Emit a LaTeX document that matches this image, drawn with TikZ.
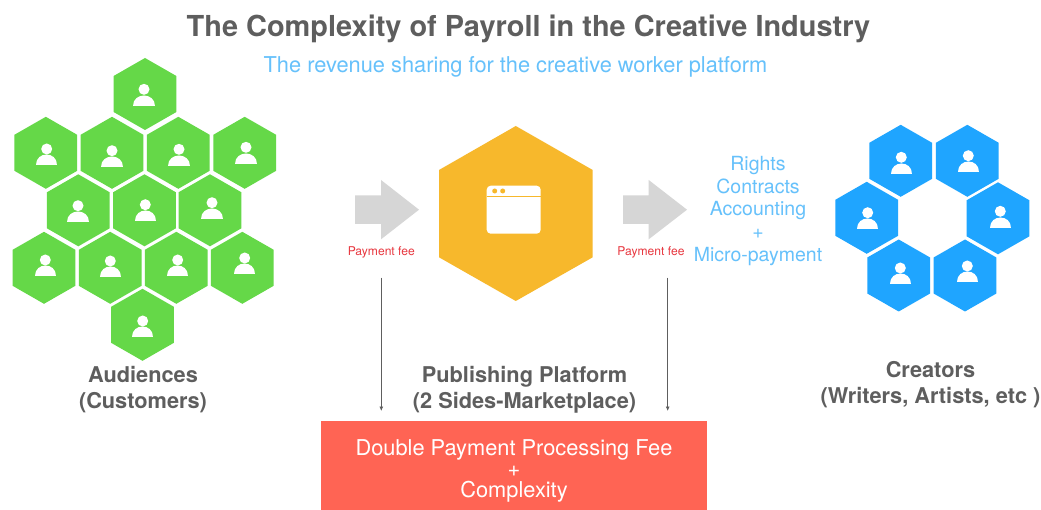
\documentclass[tikz,border=0pt]{standalone}
\usepackage{fontspec}
\setmainfont{TeX Gyre Heros}
\definecolor{ink}{HTML}{5E5E5E}
\definecolor{sky}{HTML}{66C1FB}
\definecolor{grn}{HTML}{65D848}
\definecolor{blu}{HTML}{1FA5FF}
\definecolor{org}{HTML}{F7B82C}
\definecolor{gry}{HTML}{D6D6D6}
\definecolor{redt}{HTML}{E8373F}
\definecolor{boxr}{HTML}{FF6454}
\newcommand{\hexa}[3]{\fill[#3] (#1,#2) ++(0,-36) -- ++(31.4,18) -- ++(0,36) -- ++(-31.4,18) -- ++(-31.4,-18) -- ++(0,-36) -- cycle;}
\newcommand{\pers}[2]{\fill[white] (#1,#2) circle (5.5);
 \fill[white] (#1,#2) ++(-10.7,16.5) .. controls ++(0,-14) and ++(0,-14) .. ++(21.4,0) -- cycle;}
\tikzset{
 ttl/.style={font=\fontsize{28.9}{32}\selectfont\bfseries,text=ink,inner sep=0},
 sub/.style={font=\fontsize{21.8}{25}\selectfont,text=sky,inner sep=0},
 lbl/.style={font=\fontsize{21.75}{25.6}\selectfont\bfseries,text=ink,align=center,inner sep=0},
 fee/.style={font=\fontsize{12.1}{14}\selectfont,text=redt,inner sep=0},
 duty/.style={font=\fontsize{19.5}{22.75}\selectfont,text=sky,align=center,inner sep=0},
 boxt/.style={font=\fontsize{21.8}{20.5}\selectfont,text=white,align=center,inner sep=0},
 boxf/.style={fill=boxr,inner sep=0,minimum width=386,minimum height=89},
 flow/.style={fill=gry},
 feeline/.style={draw=ink,line width=0.8pt,-{Latex[length=4.5pt,width=4pt]}}
}
\usetikzlibrary{arrows.meta}
\begin{document}
\begin{tikzpicture}[x=1pt,y=-1pt]
\useasboundingbox (0,0) rectangle (1041,510);
\fill[white] (0,0) rectangle (1041,510);
% Green hexagons
\hexa{145}{94}{grn}\hexa{45.8}{152.8}{grn}\hexa{112}{152.8}{grn}\hexa{178.3}{152.8}{grn}\hexa{244.7}{152.8}{grn}
\hexa{78.3}{210.3}{grn}\hexa{144.5}{210.3}{grn}\hexa{210}{210.3}{grn}
\hexa{44}{267.8}{grn}\hexa{110.2}{267.8}{grn}\hexa{176.3}{267.8}{grn}\hexa{242.3}{267.8}{grn}
\hexa{142.5}{324.8}{grn}
\pers{144}{89.3}
\pers{46.7}{149}\pers{112}{150.7}\pers{179}{149.3}\pers{246}{147.3}
\pers{78}{205.7}\pers{145.3}{204.7}\pers{212}{202.7}
\pers{45.3}{260}\pers{110.3}{261}\pers{177.7}{260}\pers{244.7}{258}
\pers{142.7}{321}
% Blue hexagons
\hexa{900.7}{160.8}{blu}\hexa{967.3}{160.8}{blu}\hexa{866.7}{217.8}{blu}\hexa{998}{218.3}{blu}\hexa{898.7}{275.5}{blu}\hexa{965}{275.5}{blu}
\pers{901.3}{157.3}\pers{968.3}{155.7}\pers{867.7}{212.7}\pers{1000.3}{211.3}\pers{900.3}{268}\pers{967.3}{266}
% Platform hexagon and window
\fill[org] (515.8,126) -- (592.7,170) -- (592.7,257.3) -- (515.8,301) -- (439,257.3) -- (439,170) -- cycle;
\fill[white,rounded corners=4pt] (486.7,185.7) rectangle (540.7,233.7);
\draw[org,line width=1pt] (486.7,196.7) -- (540.7,196.7);
\fill[org] (494.7,191) circle (2.5) (502.7,191) circle (2.5);
% Flow arrows
\fill[flow] (355,195.3) -- (381,195.3) -- (381,180) -- (419,209.7) -- (381,239.3) -- (381,224) -- (355,224) -- cycle;
\fill[flow] (623,195.3) -- (648.7,195.3) -- (648.7,180) -- (687,209.7) -- (648.7,239.3) -- (648.7,224) -- (623,224) -- cycle;
% Texts
\node[ttl] (title) at (528.5,29) {The Complexity of Payroll in the Creative Industry};
\node[sub] (subtitle) at (515.5,67) {The revenue sharing for the creative worker platform};
\node[fee] (feeL) at (381.3,252) {Payment fee};
\node[fee] (feeR) at (651,252) {Payment fee};
\node[duty] (duties) at (758,211) {Rights\\Contracts\\Accounting\\+\\Micro-payment};
\node[lbl] (aud) at (143,389.5) {Audiences\\(Customers)};
\node[lbl] (pub) at (524.5,389.5) {Publishing Platform\\(2 Sides-Marketplace)};
\node[lbl] (cre) at (930.5,384.5) {Creators\\(Writers, Artists, etc )};
\node[boxf] (box) at (514,465.5) {};
\node[boxt] (boxlabel) at (514,471) {Double Payment Processing Fee\\[0.5pt]+\\[0.5pt]Complexity};
% Fee connectors
\coordinate (l1) at (381.3,277.7);
\coordinate (l2) at (381.3,411);
\coordinate (r1) at (667.7,277.7);
\coordinate (r2) at (667.7,411);
\draw[feeline] (l1) -- (l2);
\draw[feeline] (r1) -- (r2);
\end{tikzpicture}
\end{document}
